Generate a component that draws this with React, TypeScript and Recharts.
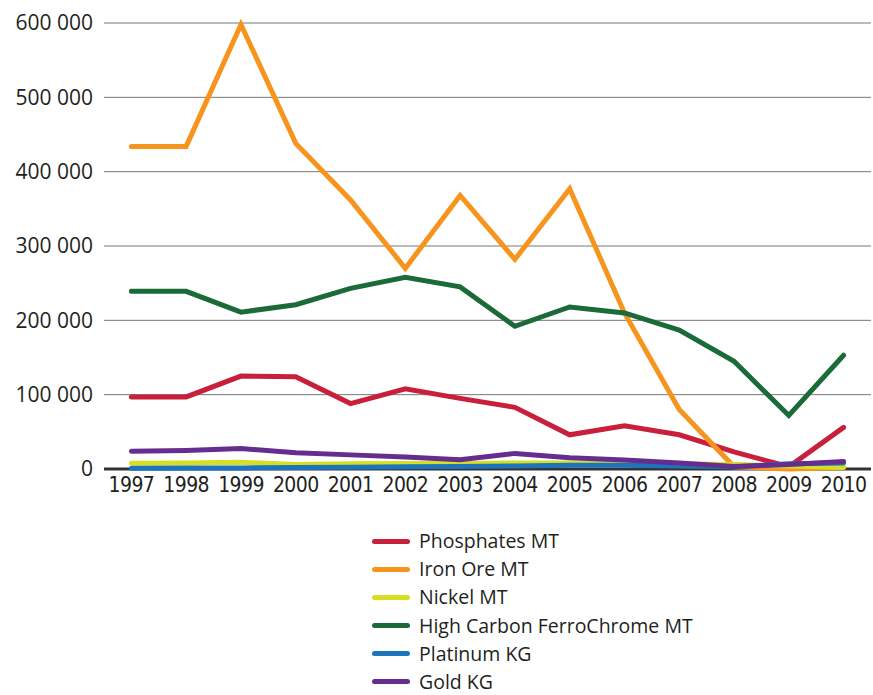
import { LineChart, Line, XAxis, YAxis, CartesianGrid, Legend, ReferenceLine } from 'recharts';

const years = ['1997', '1998', '1999', '2000', '2001', '2002', '2003', '2004', '2005', '2006', '2007', '2008', '2009', '2010'];

const phosphates = [97000, 97000, 125000, 124000, 88000, 108000, 95000, 83000, 46000, 58000, 46000, 23000, 3000, 56000];
const ironOre = [434000, 434000, 598000, 438000, 362000, 270000, 368000, 282000, 377000, 210000, 80000, 3000, 0, 2000];
const nickel = [7600, 8000, 9000, 6000, 7000, 7500, 7500, 8000, 8000, 7500, 7000, 6000, 4000, 2000];
const ferroChrome = [239000, 239000, 211000, 221000, 243000, 258000, 245000, 192000, 218000, 210000, 187000, 145000, 72000, 153000];
const platinum = [1000, 1500, 1500, 2000, 2500, 3000, 3500, 4000, 5000, 5000, 4000, 3000, 7000, 8000];
const gold = [24000, 25000, 27500, 22000, 19000, 16000, 12500, 21000, 15000, 12000, 8000, 3500, 6000, 10000];

const yTicks = [0, 100000, 200000, 300000, 400000, 500000, 600000];

const series = [
  { key: 'phosphates', name: 'Phosphates MT', color: '#c8203a' },
  { key: 'ironOre', name: 'Iron Ore MT', color: '#f7941d' },
  { key: 'nickel', name: 'Nickel MT', color: '#d7df23' },
  { key: 'ferroChrome', name: 'High Carbon FerroChrome MT', color: '#1a6b38' },
  { key: 'platinum', name: 'Platinum KG', color: '#1c75bc' },
  { key: 'gold', name: 'Gold KG', color: '#662d91' },
];

const data = years.map((year, i) => ({
  year,
  phosphates: phosphates[i],
  ironOre: ironOre[i],
  nickel: nickel[i],
  ferroChrome: ferroChrome[i],
  platinum: platinum[i],
  gold: gold[i],
}));

const fmt = (v: number) => (v === 0 ? '0' : String(v).replace(/\B(?=(\d{3})+(?!\d))/g, ' '));

const textColor = '#231f20';

function LegendList() {
  return (
    <div style={{ fontFamily: '"Open Sans", sans-serif', fontSize: 19.5, lineHeight: '20px', color: textColor }}>
      {series.map((s, i) => (
        <div
          key={s.key}
          style={{ display: 'flex', alignItems: 'center', height: 20, marginBottom: i < series.length - 1 ? 8.2 : 0 }}
        >
          <span
            style={{
              display: 'inline-block',
              width: 38,
              height: 5,
              borderRadius: 3,
              background: s.color,
              marginRight: 9,
            }}
          />
          <span>{s.name}</span>
        </div>
      ))}
    </div>
  );
}

export default function App() {
  return (
    <div style={{ position: 'absolute', left: 0, top: 0, background: '#fff' }}>
      <LineChart width={873} height={695} data={data} margin={{ top: 23, right: 2, left: 0, bottom: 196 }}>
        <CartesianGrid vertical={false} stroke="#777" strokeWidth={1} />
        <XAxis
          dataKey="year"
          scale="band"
          height={30}
          axisLine={false}
          tickLine={false}
          tickMargin={2}
          tick={{ fill: textColor, fontSize: 21, fontFamily: '"DejaVu Sans Condensed", "Liberation Sans Narrow", sans-serif', letterSpacing: -0.6 }}
        />
        <YAxis
          width={104}
          domain={[0, 600000]}
          ticks={yTicks}
          tickFormatter={fmt}
          axisLine={false}
          tickLine={false}
          tickMargin={5}
          tick={{ fill: textColor, fontSize: 21, fontFamily: '"Open Sans", sans-serif' }}
        />
        <ReferenceLine y={0} stroke="#333" strokeWidth={3} />
        {series.map((s) => (
          <Line
            key={s.key}
            type="linear"
            dataKey={s.key}
            name={s.name}
            stroke={s.color}
            strokeWidth={5}
            strokeLinecap="round"
            dot={false}
            activeDot={false}
            isAnimationActive={false}
          />
        ))}
        <Legend
          layout="vertical"
          align="center"
          verticalAlign="middle"
          wrapperStyle={{ left: 372, top: 531, width: 420 }}
          content={() => <LegendList />}
        />
      </LineChart>
    </div>
  );
}
